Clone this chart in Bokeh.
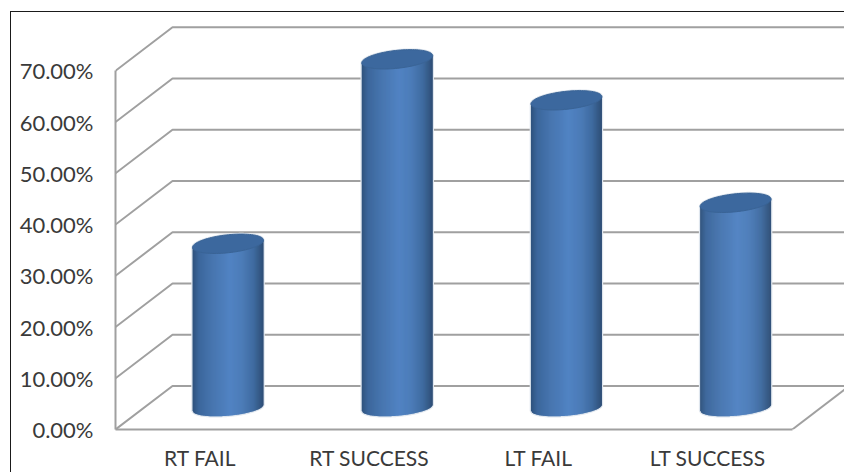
from bokeh.plotting import figure
from bokeh.embed import file_html
from bokeh.resources import INLINE
from bokeh.models import FixedTicker, Range1d
import numpy as np

categories = ["RT FAIL", "RT SUCCESS", "LT FAIL", "LT SUCCESS"]
percent_values = [32, 68, 60, 40]
tick_values = [0, 10, 20, 30, 40, 50, 60, 70]
tick_labels = ["0.00%", "10.00%", "20.00%", "30.00%", "40.00%", "50.00%", "60.00%", "70.00%"]

WIDTH, HEIGHT = 844, 472
LEFT, BOTTOM = 115, 43
PX_X = 169.2          # pixels per category
PX_Y = 5.124          # pixels per percentage point

x_start = -0.5
x_end = x_start + (WIDTH - LEFT) / PX_X
y_end = (HEIGHT - BOTTOM) / PX_Y

DEPTH_X = 57 / PX_X   # oblique depth of the plot box
DEPTH_Y = 43.5 / PX_Y

GRID = "#a0a0a0"
TEXT = "#3a3a3a"

p = figure(
    width=WIDTH, height=HEIGHT, output_backend="svg", toolbar_location=None,
    x_range=Range1d(x_start, x_end), y_range=Range1d(0, y_end),
    min_border_left=LEFT, min_border_right=0, min_border_top=0, min_border_bottom=BOTTOM,
    outline_line_color=None, background_fill_color="white", border_fill_color="white",
)
p.grid.visible = False

# Axes on the front edge of the box
p.yaxis.ticker = FixedTicker(ticks=tick_values)
p.yaxis.major_label_overrides = dict(zip(tick_values, tick_labels))
p.yaxis.bounds = (tick_values[0], tick_values[-1])
p.xaxis.ticker = FixedTicker(ticks=list(range(len(categories))))
p.xaxis.major_label_overrides = dict(enumerate(categories))
p.xaxis.bounds = (x_start, len(categories) + x_start)
for ax, standoff, size in ((p.xaxis, 15, "21px"), (p.yaxis, 22, "22px")):
    ax.axis_line_color = GRID
    ax.axis_line_width = 2
    ax.major_tick_line_color = None
    ax.minor_tick_line_color = None
    ax.major_tick_out = 0
    ax.major_tick_in = 0
    ax.minor_tick_out = 0
    ax.minor_tick_in = 0
    ax.major_label_text_font = "Lato"
    ax.major_label_text_font_size = size
    ax.major_label_text_color = TEXT
    ax.major_label_standoff = standoff

# Side wall diagonals running into the back wall rules
x_back = x_start + DEPTH_X
grid_xs = [[x_start, x_back, x_end] for _ in tick_values]
grid_ys = [[t, t + DEPTH_Y, t + DEPTH_Y] for t in tick_values]
p.multi_line(grid_xs, grid_ys, line_color=GRID, line_width=2)

# Right side of the floor
x_right = len(categories) + x_start
p.line([x_right, x_right + DEPTH_X], [0, DEPTH_Y], line_color=GRID, line_width=2)

# Cylinder shading, left to right across the body
STOPS_U = [-1.0, -0.82, -0.45, 0.05, 0.40, 0.72, 1.0]
STOPS_RGB = np.array([
    (0x2f, 0x52, 0x7c), (0x3c, 0x67, 0x9c), (0x47, 0x75, 0xaf),
    (0x51, 0x83, 0xc3), (0x4c, 0x7c, 0xb8), (0x3f, 0x6b, 0xa0), (0x2e, 0x4e, 0x75),
])


def shade(u):
    return "#%02x%02x%02x" % tuple(
        int(round(np.interp(u, STOPS_U, STOPS_RGB[:, c]))) for c in range(3)
    )


RX = 35.5 / PX_X
TOP_RY, TOP_TILT = 9 / PX_Y, 3.6 / PX_Y
BASE_RY, BASE_TILT = 8 / PX_Y, 3 / PX_Y
CENTER_SHIFT = 0.165
STRIPS = 71

strip_xs, strip_ys, strip_colors = [], [], []
halo_xs, halo_ys, cap_xs, cap_ys = [], [], [], []
theta = np.linspace(0, 2 * np.pi, 90)
edges = np.linspace(-1, 1, STRIPS + 1)
lower = DEPTH_Y / 2

for i, val in enumerate(percent_values):
    cx = i + CENTER_SHIFT
    top = val + lower

    def base_edge(u):
        return lower + BASE_TILT * u - BASE_RY * np.sqrt(np.clip(1 - u * u, 0, 1))

    def top_edge(u):
        return top + TOP_TILT * u

    for k in range(STRIPS):
        u0 = edges[k]
        u1 = min(edges[k + 1] + 0.02, 1.0)
        strip_xs.append([cx + RX * u0, cx + RX * u1, cx + RX * u1, cx + RX * u0])
        strip_ys.append([base_edge(u0), base_edge(u1), top_edge(u1), top_edge(u0)])
        strip_colors.append(shade((edges[k] + edges[k + 1]) / 2))

    # Outline of the whole cylinder, drawn behind as a soft light edge
    us = np.linspace(-1, 1, 60)
    halo_xs.append(list(cx + RX * us) + list(cx + RX * us[::-1]))
    halo_ys.append(
        [base_edge(u) for u in us]
        + [top_edge(u) + TOP_RY * np.sqrt(1 - u * u) for u in us[::-1]]
    )

    cap_xs.append(cx + RX * np.cos(theta))
    cap_ys.append(top + TOP_TILT * np.cos(theta) + TOP_RY * np.sin(theta))

p.patches(halo_xs, halo_ys, fill_color="white", line_color="#dfe6ee", line_width=2.5)
p.patches(strip_xs, strip_ys, fill_color=strip_colors, line_color=None)
p.patches(cap_xs, cap_ys, fill_color="#3c689e", line_color="#3a6496", line_width=1)

# Frame around the chart: only its left and top edges fall on the page
p.stylesheets = [
    ":host::after { content: ''; position: absolute; left: 10px; top: 11px; right: 0; bottom: 0;"
    " border-left: 1.5px solid #1a1a1a; border-top: 1.5px solid #1a1a1a; pointer-events: none; }"
]

open("out.html", "w").write(file_html(p, INLINE))
